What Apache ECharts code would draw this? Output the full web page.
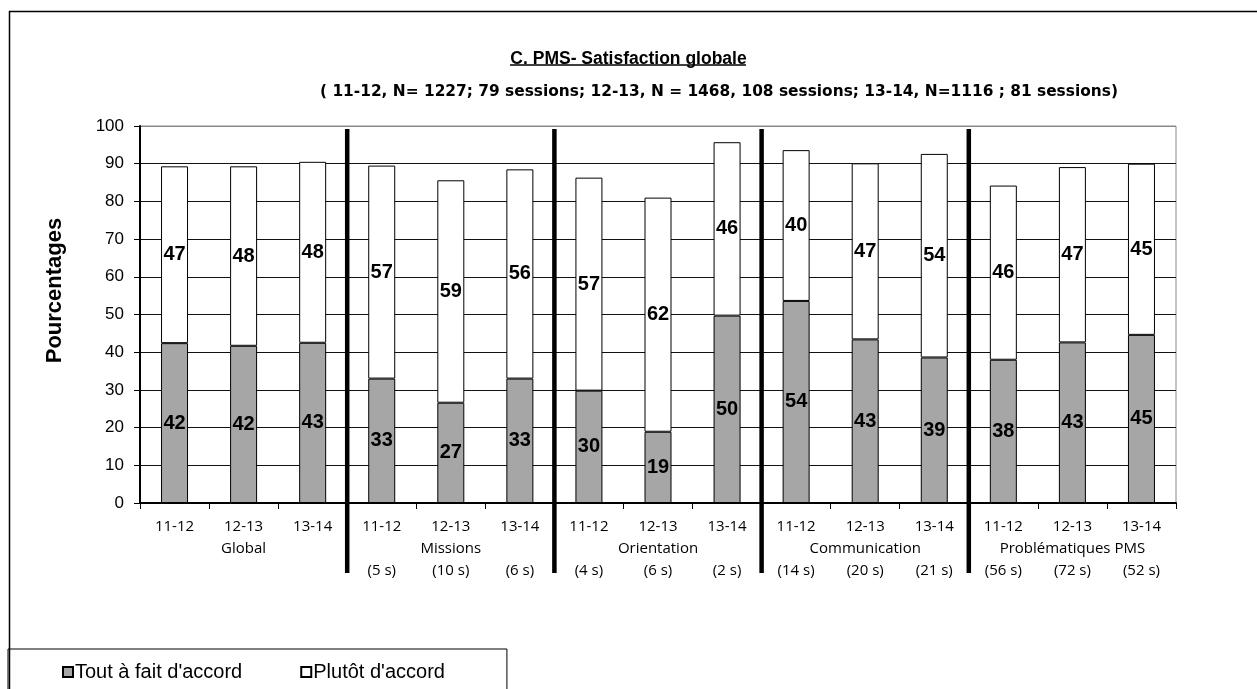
<!DOCTYPE html>
<html>
<head>
<meta charset="utf-8">
<script src="https://cdn.jsdelivr.net/npm/echarts@6/dist/echarts.min.js"></script>
<style>
html,body{margin:0;padding:0;background:#fff;}
#chart{width:1257px;height:689px;}
</style>
</head>
<body>
<div id="chart"></div>
<script>
// ---- data ----
const years = ["11-12","12-13","13-14","11-12","12-13","13-14","11-12","12-13","13-14","11-12","12-13","13-14","11-12","12-13","13-14"];
const groups = ["Global","Missions","Orientation","Communication","Problématiques PMS"];
const sessions = ["","","","(5 s)","(10 s)","(6 s)","(4 s)","(6 s)","(2 s)","(14 s)","(20 s)","(21 s)","(56 s)","(72 s)","(52 s)"];
const toutAFait = [42.4, 41.7, 42.5, 33.0, 26.6, 33.0, 29.8, 18.9, 49.7, 53.6, 43.4, 38.6, 38.0, 42.6, 44.6];
const plutot = [46.9, 47.6, 48.0, 56.5, 59.0, 55.5, 56.5, 62.1, 46.0, 40.0, 46.7, 54.0, 46.2, 46.5, 45.4];
const seriesNames = ["Tout à fait d'accord", "Plutôt d'accord"];
const titleText = "C. PMS- Satisfaction globale";
const subtitleText = "( 11-12, N= 1227; 79 sessions; 12-13, N = 1468, 108 sessions; 13-14, N=1116 ; 81 sessions)";
const yAxisName = "Pourcentages";
const groupSize = 3;

const separators = [];
for (let g = 1; g < groups.length; g++) separators.push([g * groupSize - 1]);

const gridColors = ['#000','#111','#111','#111','#111','#111','#111','#111','#111','#111','#888'];

const chart = echarts.init(document.getElementById('chart'), null, {renderer: 'canvas'});
const barLabel = {
  show: true, position: 'inside', color: '#000', fontWeight: 'bold',
  fontSize: 20, fontFamily: 'Liberation Sans, Arial, sans-serif',
  formatter: p => Math.round(p.value)
};
const option = {
  backgroundColor: '#fff',
  animation: false,
  title: [
    {text: titleText, left: 'center', top: 45,
     textStyle: {fontSize: 17.5, fontWeight: 'bold', color: '#000', fontFamily: 'Liberation Sans, Arial, sans-serif'}},
    {text: subtitleText, left: 315, top: 79,
     textStyle: {fontSize: 15.4, fontWeight: 'bold', color: '#000', fontFamily: 'DejaVu Sans, sans-serif'}}
  ],
  graphic: [
    {type: 'rect', left: 7, top: 9, shape: {width: 1300, height: 700}, style: {fill: 'none', stroke: '#000', lineWidth: 1.5}, silent: true},
    {type: 'line', shape: {x1: 510, y1: 65, x2: 746, y2: 65}, style: {stroke: '#000', lineWidth: 1.5}, silent: true}
  ],
  legend: {
    left: 8, top: 649, orient: 'horizontal',
    padding: [13, 62, 30, 54],
    borderColor: '#000', borderWidth: 1,
    itemWidth: 10, itemHeight: 10, itemGap: 58,
    icon: 'rect',
    textStyle: {fontSize: 20, color: '#000', fontFamily: 'Liberation Sans, Arial, sans-serif', padding: [0,0,0,-3]},
    data: seriesNames
  },
  grid: {left: 140, right: 81, top: 126, bottom: 186, show: true, borderColor: '#888', borderWidth: 1, containLabel: false},
  xAxis: {
    type: 'category', data: years,
    axisLine: {lineStyle: {color: '#000', width: 2}},
    axisTick: {show: true, length: 6, lineStyle: {color: '#000', width: 1}},
    axisLabel: {
      interval: 0, margin: 13, color: '#000', fontSize: 15, lineHeight: 22,
      fontFamily: 'Open Sans, sans-serif',
      formatter: (v, i) => {
        const g = Math.floor(i / groupSize);
        const mid = (i % groupSize) === 1 ? groups[g] : '';
        return v + '\n' + mid + '\n' + sessions[i];
      }
    },
    splitLine: {show: false}
  },
  yAxis: {
    type: 'value', min: 0, max: 100, interval: 10,
    name: yAxisName, nameLocation: 'middle', nameGap: 74,
    nameTextStyle: {fontSize: 22, fontWeight: 'bold', color: '#000', fontFamily: 'Liberation Sans, Arial, sans-serif', padding: [0, 0, 0, 48]},
    axisLine: {show: true, lineStyle: {color: '#000', width: 2}},
    axisTick: {show: true, length: 6, lineStyle: {color: '#000'}},
    axisLabel: {color: '#000', fontSize: 17, margin: 16, fontFamily: 'Liberation Sans, Arial, sans-serif'},
    splitLine: {lineStyle: {color: gridColors, width: 1}}
  },
  series: [
    {name: seriesNames[0], type: 'bar', stack: 'total', data: toutAFait, barWidth: 27,
     itemStyle: {color: '#a6a6a6', borderColor: '#000', borderWidth: 1}, label: barLabel},
    {name: seriesNames[1], type: 'bar', stack: 'total', data: plutot, barWidth: 27,
     itemStyle: {color: '#fff', borderColor: '#000', borderWidth: 1}, label: barLabel},
    {type: 'custom', name: 'sep', data: separators, clip: false, silent: true, z: 10,
     encode: {x: 0},
     renderItem: (params, api) => {
       const idx = api.value(0);
       const top = api.coord([idx, 100]);
       const bot = api.coord([idx, 0]);
       const w = api.size([1, 0])[0];
       const x = top[0] + w / 2;
       return {type: 'line', shape: {x1: x, y1: top[1] + 3, x2: x, y2: bot[1] + 70},
               style: {stroke: '#000', lineWidth: 4.5}};
     }}
  ]
};
chart.setOption(option);
</script>
</body>
</html>
